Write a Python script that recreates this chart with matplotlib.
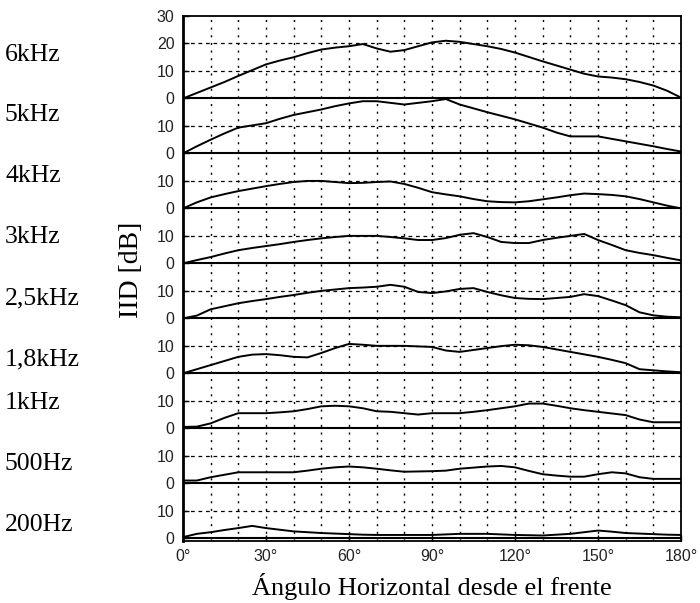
import numpy as np
import matplotlib
matplotlib.use('Agg')
import matplotlib.pyplot as plt

# angles every 5 degrees
angles = list(range(0, 185, 5))

iid_6k = [0, 2, 4, 6, 8.2, 10.3, 12.4, 13.8, 15, 16.5, 17.8, 18.5, 19, 19.8, 18.2, 17, 17.6, 19, 20.4,
          21, 20.6, 19.8, 19, 18, 16.7, 15.1, 13.5, 12, 10.5, 9, 8, 7.6, 7, 6, 4.7, 2.8, 0.3]
iid_5k = [0, 2.6, 5, 7.3, 9.4, 10.2, 11, 12.6, 14, 15, 16, 17.2, 18.2, 19, 19, 18.4, 17.8, 18.4, 19,
          19.8, 17.8, 16.4, 15, 13.7, 12.4, 10.9, 9.4, 7.6, 6.2, 6.2, 6.2, 5.3, 4.4, 3.5, 2.6, 1.6, 0.7]
iid_4k = [0, 2.2, 4, 5.2, 6.3, 7.2, 8.1, 8.9, 9.6, 10, 10, 9.6, 9.2, 9.3, 9.6, 9.8, 8.9, 7.5, 5.9,
          5.1, 4.4, 3.4, 2.6, 2.3, 2.2, 2.6, 3.3, 4, 4.8, 5.4, 5.2, 4.9, 4.4, 3.4, 2.2, 1.0, 0]
iid_3k = [0, 1.2, 2.3, 3.6, 4.8, 5.6, 6.3, 7, 7.8, 8.5, 9.1, 9.6, 10, 10, 10, 9.6, 9.1, 8.5, 8.5,
          9.2, 10.4, 11, 9.6, 7.8, 7.4, 7.4, 8.5, 9.3, 10, 10.7, 8.5, 6.7, 4.8, 3.8, 3, 2, 1.1]
iid_2k5 = [0, 1, 3.3, 4.4, 5.5, 6.3, 7, 7.8, 8.5, 9.3, 10, 10.5, 11, 11.2, 11.5, 12.2, 11.5, 9.6, 9.2,
           9.8, 10.7, 11, 9.6, 8.4, 7.4, 7.1, 7, 7.4, 7.8, 8.8, 8.1, 6.5, 4.8, 2.2, 1.1, 0.6, 0.4]
iid_1k8 = [0, 1.5, 3, 4.5, 6, 6.8, 7, 6.6, 6, 5.8, 7.4, 9.2, 10.7, 10.4, 10, 10, 10, 9.8, 9.6,
           8.3, 7.8, 8.5, 9.2, 9.9, 10.4, 10.2, 9.6, 8.7, 7.8, 6.9, 6, 4.9, 3.7, 1.5, 1.1, 0.7, 0.4]
iid_1k = [0.5, 0.6, 1.8, 3.8, 5.5, 5.5, 5.5, 5.8, 6.2, 7, 8, 8.2, 8, 7.3, 6.2, 6, 5.5, 5, 5.5,
          5.5, 5.5, 6, 6.6, 7.3, 8, 9, 9, 8.2, 7.3, 6.6, 6, 5.4, 4.8, 3.2, 2.2, 2.2, 2.2]
iid_500 = [1, 1, 2.2, 3.1, 4, 4, 4, 4, 4, 4.6, 5.3, 5.8, 6.1, 5.8, 5.3, 4.7, 4.2, 4.3, 4.4,
           4.6, 5.3, 5.7, 6.1, 6.3, 5.8, 4.5, 3.3, 2.8, 2.4, 2.4, 3.3, 4, 3.6, 2.2, 1.6, 1.6, 1.6]
iid_200 = [0.4, 1.6, 2.2, 3, 3.7, 4.5, 3.7, 3.1, 2.5, 2.2, 1.9, 1.7, 1.5, 1.3, 1.2, 1.2, 1.2, 1.2, 1.2,
           1.4, 1.6, 1.6, 1.6, 1.4, 1.2, 1.1, 1, 1.3, 1.6, 2.2, 2.8, 2.4, 1.9, 1.7, 1.5, 1.3, 1.2]

# bottom to top
band_names = ['200Hz', '500Hz', '1kHz', '1,8kHz', '2,5kHz', '3kHz', '4kHz', '5kHz', '6kHz']
band_data = [iid_200, iid_500, iid_1k, iid_1k8, iid_2k5, iid_3k, iid_4k, iid_5k, iid_6k]
band_label_y = [525, 464, 403, 359, 298, 237, 176, 115, 55]  # pixel rows of left labels
step = 20

W, H = 700, 603
fig = plt.figure(figsize=(W / 100, H / 100), dpi=100)
ax = fig.add_axes([183 / W, 1 - 541 / H, (681 - 183) / W, (541 - 16) / H])

ax.set_xlim(0, 180)
ax.set_ylim(-1, 190)

# vertical dotted grid every 10 degrees
for a in range(10, 180, 10):
    ax.axvline(a, color='black', lw=1.0, ls=(0, (1.5, 4)), zorder=1)

yt, yl = [], []
for i, vals in enumerate(band_data):
    off = i * step
    ax.axhline(off, color='black', lw=1.5, zorder=2)
    ax.axhline(off + 10, color='black', lw=0.9, ls=(0, (3, 3)), zorder=1)
    ax.plot(angles, np.array(vals) + off, color='black', lw=1.4, zorder=3)
    yt += [off, off + 10]
    yl += ['0', '10']
top = (len(band_data) - 1) * step
ax.axhline(top + 20, color='black', lw=0.9, ls=(0, (3, 3)), zorder=1)
yt += [top + 20, top + 30]
yl += ['20', '30']

ax.set_yticks(yt)
ax.set_yticklabels(yl)
ax.set_xticks(range(0, 181, 30))
ax.set_xticklabels([f'{a}\u00b0' for a in range(0, 181, 30)])
ax.tick_params(direction='in', length=4, width=1, labelsize=11.5, labelcolor='#222222', pad=6)
for lab in ax.get_xticklabels() + ax.get_yticklabels():
    lab.set_family('Liberation Sans')
for s in ax.spines.values():
    s.set_linewidth(1.3)
ax.spines['left'].set_linewidth(2)

serif = 'Liberation Serif'
for name, py in zip(band_names, band_label_y):
    fig.text(5 / W, 1 - py / H, name, ha='left', va='center', fontsize=18.5, family=serif)
fig.text(132 / W, 1 - 270 / H, 'IID [dB]', rotation=90, ha='center', va='center', fontsize=20, family=serif)
fig.text(432 / W, 1 - 587 / H, '\u00c1ngulo Horizontal desde el frente', ha='center', va='center',
         fontsize=19, family=serif)

fig.savefig('out.png', dpi=100)
